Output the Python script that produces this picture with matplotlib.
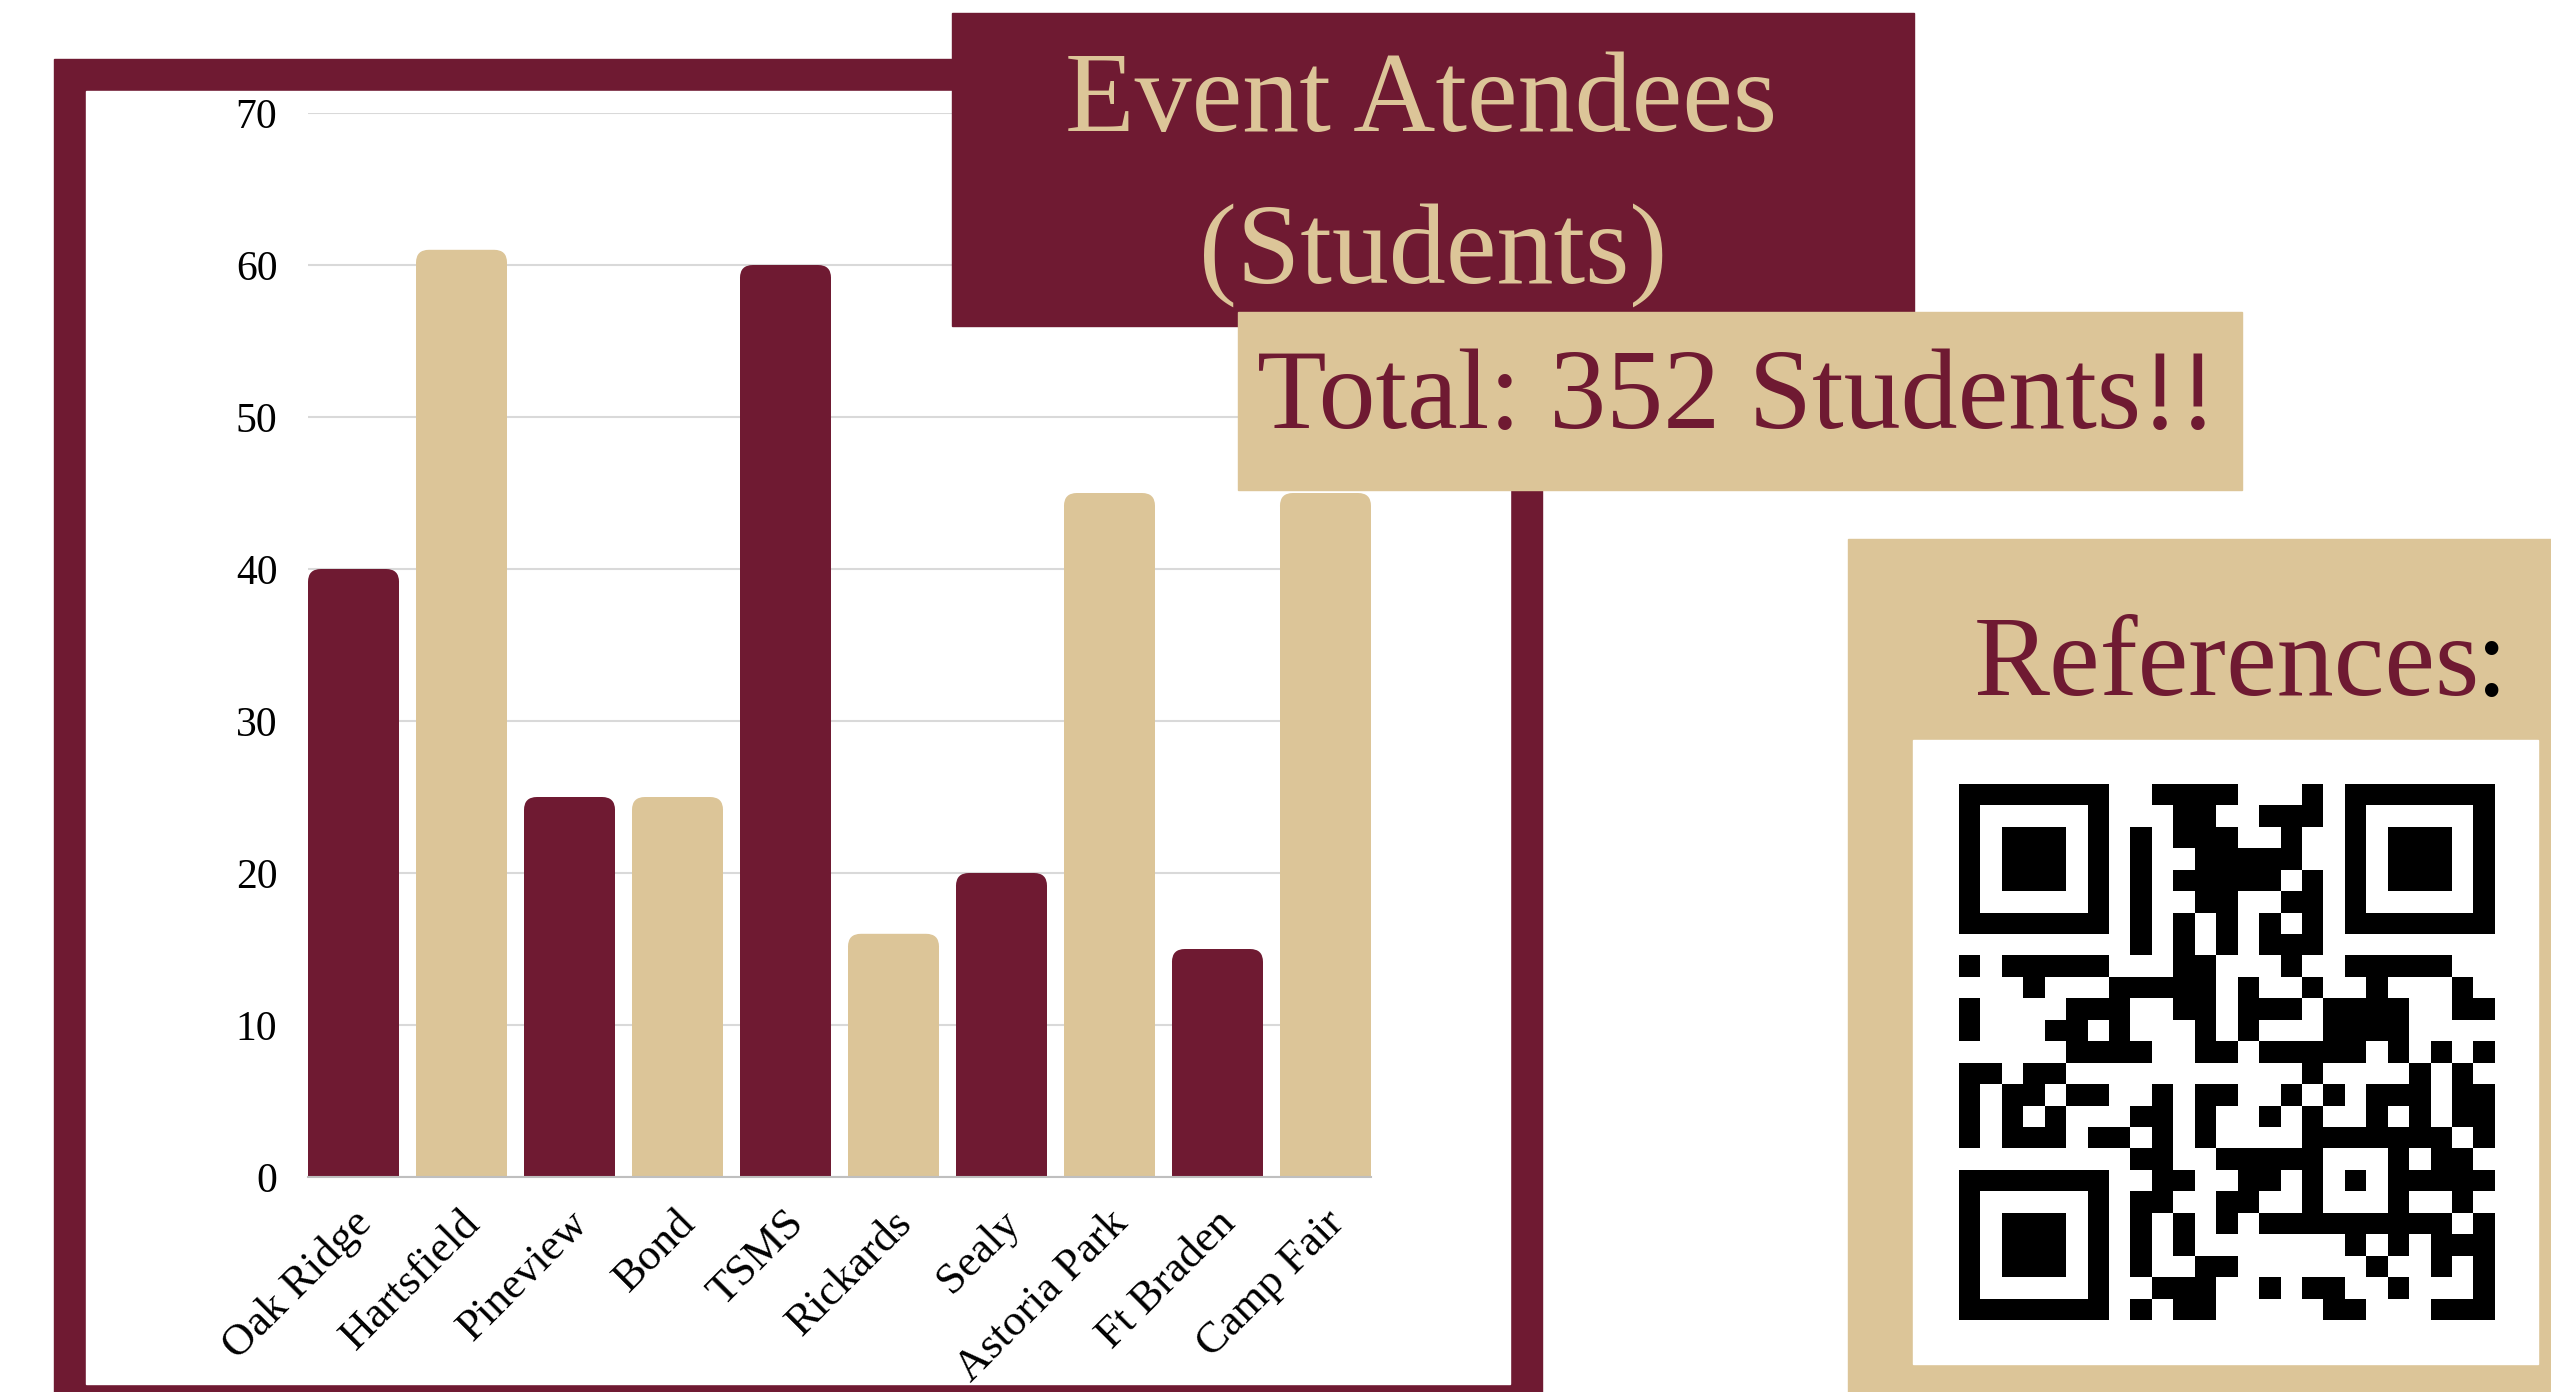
import numpy as np
import matplotlib
matplotlib.use('Agg')
import matplotlib.pyplot as plt
from matplotlib.patches import Rectangle, FancyBboxPatch
from matplotlib.transforms import ScaledTranslation

# chart data
schools = ['Oak Ridge', 'Hartsfield', 'Pineview', 'Bond', 'TSMS',
           'Rickards', 'Sealy', 'Astoria Park', 'Ft Braden', 'Camp Fair']
students = [40, 61, 25, 25, 60, 16, 20, 45, 15, 45]
y_ticks = [0, 10, 20, 30, 40, 50, 60, 70]

title_lines = ['Event Atendees', '(Students)']
total_text = 'Total: 352 Students!!'
ref_text = 'References'

# QR code modules (1 = black)
qr_rows = [
    '1111111001111000101111111',
    '1000001000110011101000001',
    '1011101010111001001011101',
    '1011101010011111001011101',
    '1011101010111110101011101',
    '1000001010011001101000001',
    '1111111010101010101111111',
    '0000000010101011100000000',
    '1011111000110001001111100',
    '0001000111110100100100010',
    '1000011100110111011110011',
    '1000110100010100011110000',
    '0000011110011011111010101',
    '1101100000000000100001010',
    '1011011001011001010111011',
    '1010100011010010100101011',
    '1011101101010000111111101',
    '0000000011001111100010110',
    '1111111001100110101011111',
    '1000001011001100100010010',
    '1011101010101011111111101',
    '1011101010100000001010111',
    '1011101010011000000100101',
    '1000001001110010110010001',
    '1111111010110000011000111',
]

W, H = 2551, 1392
MAROON = '#6F1A32'
TAN = '#DCC598'

plt.rcParams['font.family'] = ['Liberation Serif', 'DejaVu Serif']

fig = plt.figure(figsize=(W / 100, H / 100), dpi=100)

# frame behind the chart (pixel coords)
bg = fig.add_axes([0, 0, 1, 1], zorder=0)
bg.set_xlim(0, W)
bg.set_ylim(H, 0)
bg.axis('off')
bg.add_patch(Rectangle((54, 59), 1488, 1400, color=MAROON))
bg.add_patch(Rectangle((86, 91), 1424, 1293, color='white'))

# bar chart
ax = fig.add_axes([308 / W, 1 - 1177 / H, 1063 / W, 1064 / H], zorder=1)
ax.patch.set_alpha(0)
w = 0.843
x = np.arange(len(schools))
colors = [MAROON if i % 2 == 0 else TAN for i in range(len(schools))]
bars = ax.bar(x, students, width=w, color=colors, zorder=2)

# rounded tops
rx, ry = 0.12, 0.85
for b in bars:
    h = b.get_height()
    b.set_height(h - ry)
    ax.add_patch(FancyBboxPatch((b.get_x(), h - 2 * ry), b.get_width(), 2 * ry,
                                boxstyle='round,pad=0,rounding_size=%g' % rx,
                                mutation_aspect=ry / rx,
                                fc=b.get_facecolor(), ec='none', zorder=2))

ax.set_xlim(-w / 2, len(schools) - 1 + w / 2)
ax.set_ylim(0, 70)
ax.set_yticks(y_ticks)
ax.yaxis.grid(True, color='#d9d9d9', linewidth=1.5)
ax.set_axisbelow(True)
for s in ['top', 'right', 'left']:
    ax.spines[s].set_visible(False)
ax.spines['bottom'].set_color('#bfbfbf')
ax.spines['bottom'].set_linewidth(1.5)
ax.tick_params(axis='y', length=0, pad=22, labelsize=30)
ax.tick_params(axis='x', length=0, pad=29)
ax.set_xticks(x)
ax.set_xticklabels(schools, rotation=45, ha='right', va='center',
                   rotation_mode='anchor', fontsize=32)
offset = ScaledTranslation(0.12, 0, fig.dpi_scale_trans)
for lbl in ax.get_xticklabels():
    lbl.set_transform(lbl.get_transform() + offset)

# boxes and texts on top
top = fig.add_axes([0, 0, 1, 1], zorder=2)
top.set_xlim(0, W)
top.set_ylim(H, 0)
top.axis('off')
top.patch.set_alpha(0)

top.add_patch(Rectangle((952, 13), 962, 313, color=MAROON))
top.text(1421, 131, title_lines[0], ha='center', va='baseline', fontsize=82, color=TAN)
top.text(1433, 283, title_lines[1], ha='center', va='baseline', fontsize=82, color=TAN)

top.add_patch(Rectangle((1238, 312), 1004, 178, color=TAN))
top.text(1737, 428, total_text, ha='center', va='baseline', fontsize=82, color=MAROON)

top.add_patch(Rectangle((1848, 539), 720, 870, color=TAN))
top.text(2480, 695, ref_text, ha='right', va='baseline', fontsize=82, color=MAROON)
top.text(2476, 695, ':', ha='left', va='baseline', fontsize=82, color='black')
top.add_patch(Rectangle((1913, 740), 625, 624, color='white'))

qr = np.array([[int(c) for c in row] for row in qr_rows])
top.imshow(qr, cmap='binary', vmin=0, vmax=1, interpolation='nearest',
           extent=(1959, 2495, 1320, 784), aspect='auto', zorder=3)
top.set_xlim(0, W)
top.set_ylim(H, 0)

fig.savefig('out.png', dpi=100)
